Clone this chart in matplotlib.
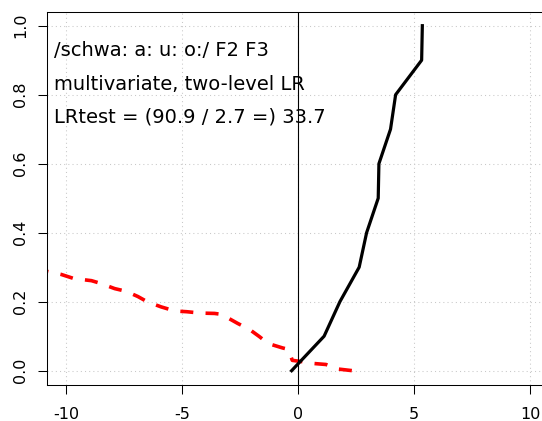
import matplotlib
matplotlib.use("Agg")
import matplotlib.pyplot as plt

# same-speaker curve (solid black)
black_x = [-0.28, 1.12, 1.80, 2.63, 2.95, 3.45, 3.48, 3.98, 4.20, 5.32, 5.35]
black_y = [0.0, 0.1, 0.2, 0.3, 0.4, 0.5, 0.6, 0.7, 0.8, 0.9, 1.0]

# different-speaker curve (dashed red)
red_x = [-11.3, -10.2, -9.65, -8.9, -8.5, -7.9, -7.4, -6.9, -6.5, -5.9, -5.3,
         -4.8, -4.2, -3.6, -3.25, -3.05, -2.6, -2.1, -1.65, -1.3, -0.67,
         -0.43, -0.33, -0.25, 0.2, 0.65, 1.2, 1.7, 2.35]
red_y = [0.295, 0.279, 0.267, 0.261, 0.253, 0.238, 0.230, 0.215, 0.200, 0.185,
         0.173, 0.171, 0.167, 0.166, 0.163, 0.154, 0.137, 0.120, 0.098, 0.079,
         0.066, 0.062, 0.045, 0.030, 0.026, 0.021, 0.018, 0.005, 0.0]

x_ticks = [-10, -5, 0, 5, 10]
y_ticks = [0.0, 0.2, 0.4, 0.6, 0.8, 1.0]
y_labels = ["0.0", "0.2", "0.4", "0.6", "0.8", "1.0"]

info_lines = ["/schwa: a: u: o:/ F2 F3",
              "multivariate, two-level LR",
              "LRtest = (90.9 / 2.7 =) 33.7"]

W, H = 542, 421
fig = plt.figure(figsize=(W / 100, H / 100), dpi=100)
ax = fig.add_axes([47.3 / W, 1 - 384.5 / H, (548.9 - 47.3) / W, (384.5 - 11.9) / H])

ax.set_xlim(-10.8, 10.8)
ax.set_ylim(-0.04, 1.04)

# dotted light grid
for gx in x_ticks:
    ax.axvline(gx, color="#c8c8c8", lw=0.75, dashes=(1, 3), zorder=0)
for gy in y_ticks:
    ax.axhline(gy, color="#c8c8c8", lw=0.75, dashes=(1, 3), zorder=0)

ax.plot(red_x, red_y, color="red", lw=2.6, dashes=(3.6, 3.4),
        solid_capstyle="butt", dash_capstyle="butt", zorder=2)
ax.plot(black_x, black_y, color="black", lw=2.3, zorder=3)
ax.axvline(0, color="black", lw=0.8, zorder=4)

ax.set_xticks(x_ticks)
ax.set_xticklabels([str(v) for v in x_ticks])
ax.set_yticks(y_ticks)
ax.set_yticklabels(y_labels, rotation=90, va="center")
ax.tick_params(axis="both", direction="out", length=6.5, width=0.75,
               labelsize=11.5, colors="black")
ax.tick_params(axis="x", pad=10)
ax.tick_params(axis="y", pad=7.5)
for s in ax.spines.values():
    s.set_linewidth(0.75)
# the right side of the box falls outside the picture
ax.spines["right"].set_visible(False)

for txt, base in zip(info_lines, [56, 90.5, 122.5]):
    fig.text(54.5 / W, 1 - base / H, txt, fontsize=14, ha="left", va="baseline")

fig.savefig("out.png", dpi=100)
